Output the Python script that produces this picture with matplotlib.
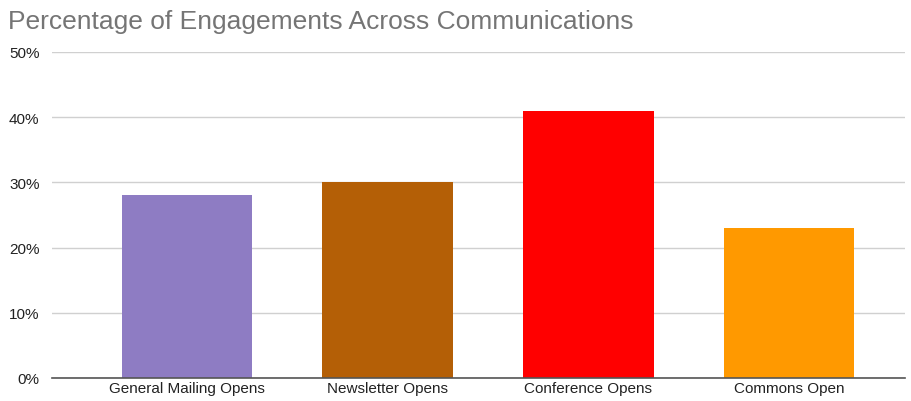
import matplotlib.pyplot as plt
from matplotlib.ticker import PercentFormatter

plt.rcParams['font.family'] = ['Liberation Sans', 'DejaVu Sans']

categories = ['General Mailing Opens', 'Newsletter Opens', 'Conference Opens', 'Commons Open']
values = [28, 30, 41, 23]
colors = ['#8e7cc3', '#b45f06', '#ff0000', '#ff9900']
yticks = [0, 10, 20, 30, 40, 50]

fig = plt.figure(figsize=(9.11, 4.02), dpi=100)
ax = fig.add_axes([52 / 911, 23 / 402, 853 / 911, 326 / 402])

x = range(len(categories))
ax.bar(x, values, width=0.65, color=colors, zorder=3)

ax.set_ylim(0, 50)
ax.set_xlim(-0.673, 3.578)
ax.set_yticks(yticks)
ax.yaxis.set_major_formatter(PercentFormatter(decimals=0))
ax.set_xticks(list(x))
ax.set_xticklabels(categories)
ax.tick_params(axis='both', length=0, labelsize=11, colors='#222222')
ax.tick_params(axis='x', labelsize=11, pad=2)
ax.tick_params(axis='y', pad=9)
ax.grid(axis='y', color='#d0d0d0', linewidth=1, zorder=0)

for s in ['top', 'right', 'left']:
    ax.spines[s].set_visible(False)
ax.spines['bottom'].set_color('#555555')
ax.spines['bottom'].set_linewidth(1.2)
ax.spines['bottom'].set_zorder(4)

fig.text(8 / 911, 1 - 29 / 402, 'Percentage of Engagements Across Communications',
         fontsize=19, color='#757575', ha='left', va='baseline')

plt.savefig('out.png')
